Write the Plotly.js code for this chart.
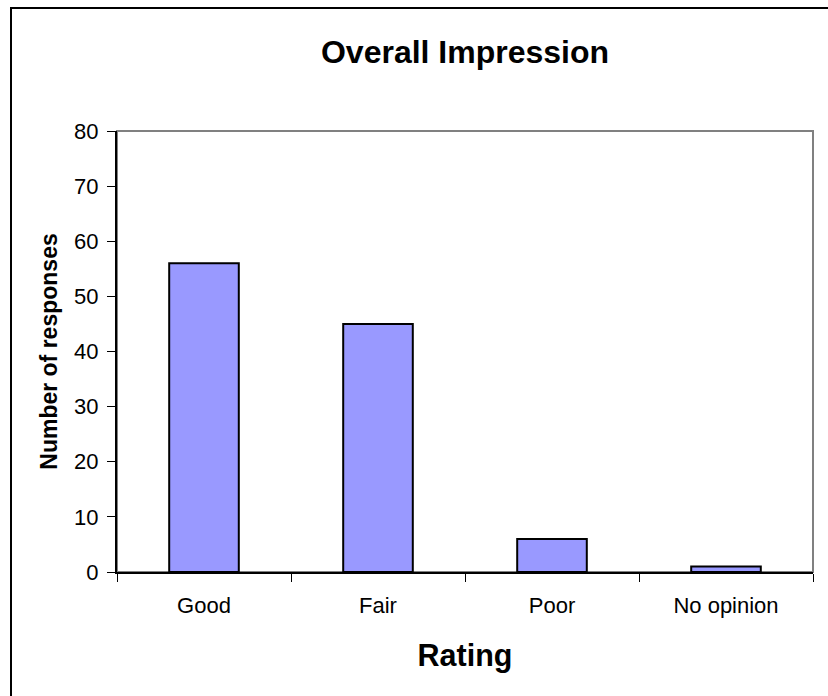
<!DOCTYPE html>
<html>
<head>
<meta charset="utf-8">
<script src="https://cdn.plot.ly/plotly-3.0.1.min.js"></script>
<style>
html,body{margin:0;padding:0;background:#fff;}
#chart{width:828px;height:696px;}
</style>
</head>
<body>
<div id="chart"></div>
<script>
var categories = ["Good", "Fair", "Poor", "No opinion"];
var responses = [56, 45, 6, 1];
var yTickValues = [0, 10, 20, 30, 40, 50, 60, 70, 80];

var W = 828, H = 696;
var mL = 117, mR = 15, mT = 131, mB = 124;
var pw = W - mL - mR, ph = H - mT - mB;
function px(x){ return (x - mL) / pw; }
function py(y){ return (H - mB - y) / ph; }

var font = "Liberation Sans, Arial, sans-serif";

var data = [{
  type: "bar",
  x: categories,
  y: responses,
  width: 0.4,
  marker: {color: "#9999FF", line: {color: "#000000", width: 2}},
  hoverinfo: "x+y"
}];

var layout = {
  width: W, height: H,
  margin: {l: mL, r: mR, t: mT, b: mB, pad: 0},
  paper_bgcolor: "#ffffff",
  plot_bgcolor: "#ffffff",
  showlegend: false,
  font: {family: font, color: "#000000"},
  title: {
    text: "<b>Overall Impression</b>",
    font: {family: font, size: 32, color: "#000000"},
    x: 0.5, xref: "paper", xanchor: "center",
    y: (H - 52) / H, yref: "container", yanchor: "middle"
  },
  xaxis: {
    type: "category",
    tickson: "boundaries",
    ticks: "outside",
    ticklen: 8,
    tickwidth: 1,
    tickcolor: "#000000",
    showline: true,
    linecolor: "#000000",
    linewidth: 2,
    showgrid: false,
    zeroline: false,
    tickfont: {family: font, size: 22, color: "#000000"},
    ticklabelstandoff: 13,
    title: {text: "<b>Rating</b>", font: {family: font, size: 30.5, color: "#000000"}, standoff: 27}
  },
  yaxis: {
    range: [0, 80],
    tickvals: yTickValues,
    ticks: "outside",
    ticklen: 8,
    tickwidth: 1,
    tickcolor: "#000000",
    showline: true,
    linecolor: "#000000",
    linewidth: 2,
    showgrid: false,
    zeroline: false,
    tickfont: {family: font, size: 22, color: "#000000"},
    ticklabelstandoff: 4,
    title: {text: "<b>Number of responses</b>", font: {family: font, size: 23, color: "#000000"}, standoff: 10}
  },
  shapes: [
    {type: "rect", xref: "paper", yref: "paper", x0: 0, x1: 1, y0: 0, y1: 1,
     line: {color: "#808080", width: 2}, layer: "below"},
    {type: "path", xref: "paper", yref: "paper",
     path: "M " + px(11) + " " + py(H + 10) + " L " + px(11) + " " + py(8) + " L " + px(W + 10) + " " + py(8),
     line: {color: "#000000", width: 2}}
  ]
};

Plotly.newPlot("chart", data, layout, {displayModeBar: false, staticPlot: false});
</script>
</body>
</html>
